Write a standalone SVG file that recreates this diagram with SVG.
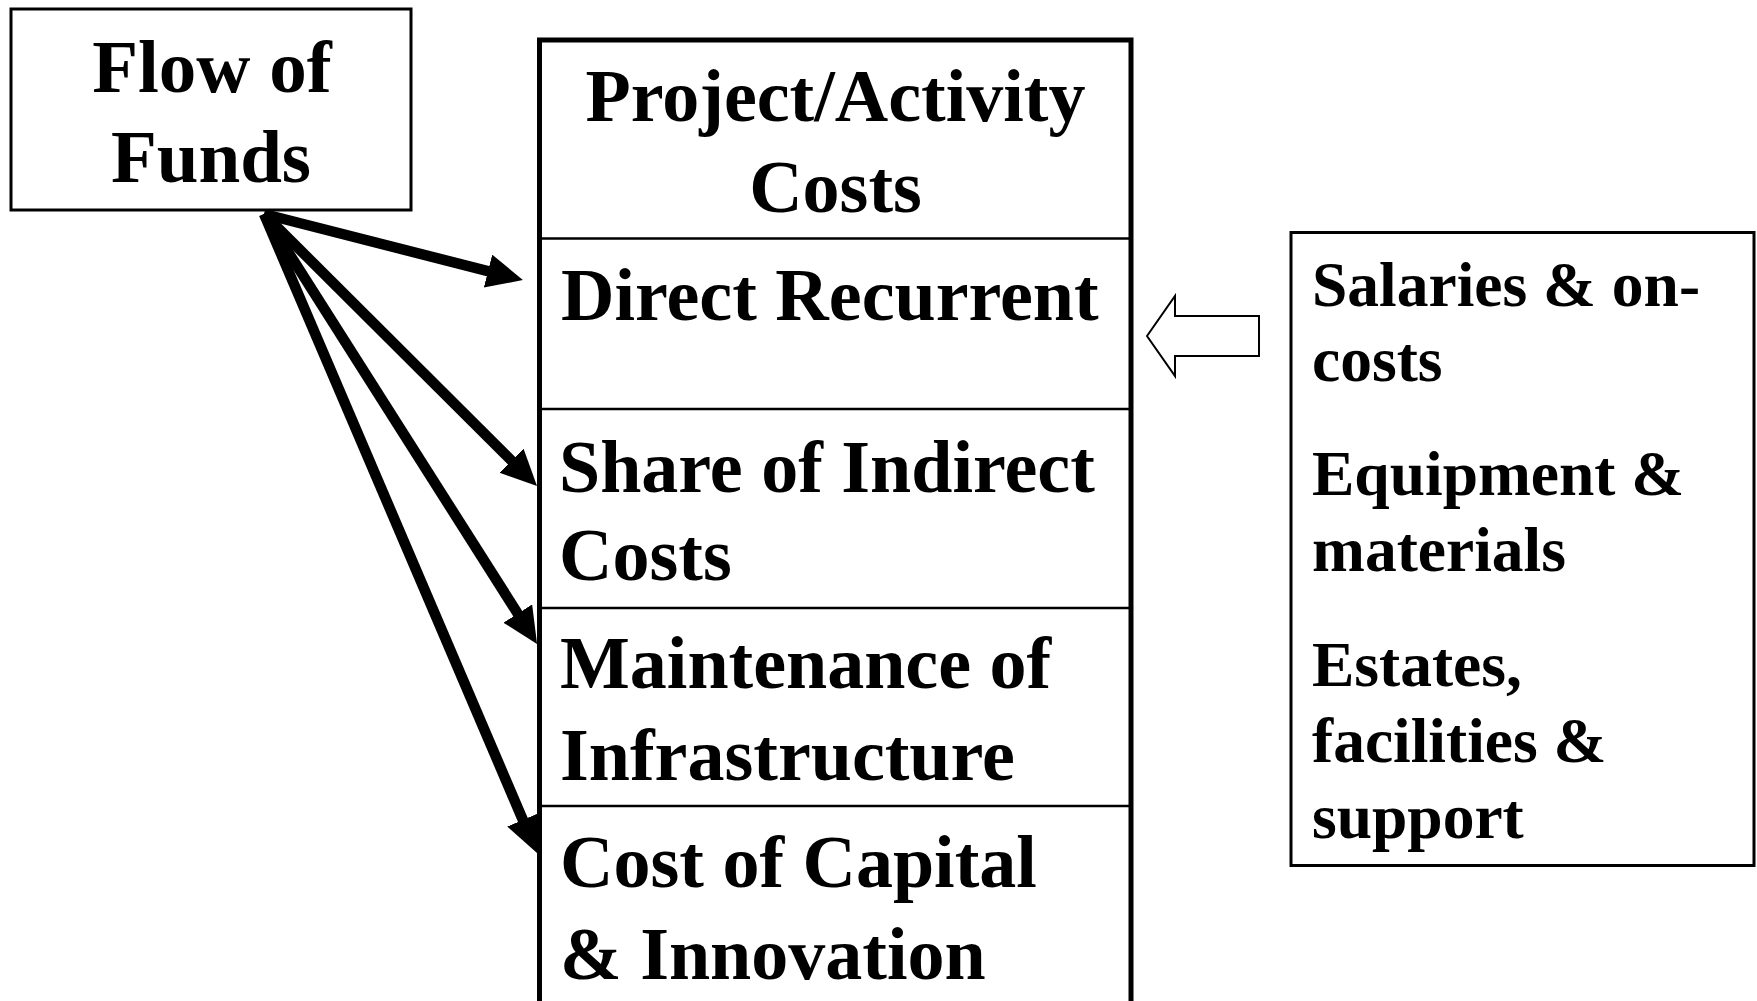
<svg xmlns="http://www.w3.org/2000/svg" width="1757" height="1001" viewBox="0 0 1757 1001">
<style>
text{font-family:"Liberation Serif","Times New Roman",serif;font-weight:bold;fill:#000}
.big{font-size:74px}
.side{font-size:63.5px}
.box{fill:#fff;stroke:#000}
.div{stroke:#000;stroke-width:2.5}
.conn{stroke:#000;stroke-width:10.5;fill:none;marker-end:url(#ah)}
</style>
<defs>
<marker id="ah" markerUnits="userSpaceOnUse" markerWidth="36" markerHeight="36" refX="10" refY="17" orient="auto" viewBox="0 0 36 36">
<path d="M0,0 L36,17 L0,34 z" fill="#000"/>
</marker>
</defs>
<rect width="1757" height="1001" fill="#fff"/>
<g id="flow-of-funds">
<rect class="box" x="11" y="9" width="400" height="201" stroke-width="3"/>
<text class="big" x="212" y="92" text-anchor="middle" style="font-size:75px">Flow of</text>
<text class="big" x="211" y="182" text-anchor="middle" style="font-size:75px">Funds</text>
</g>
<g id="project-costs">
<rect class="box" x="539.5" y="40" width="591.5" height="1000" stroke-width="5"/>
<line class="div" x1="539.5" y1="238.5" x2="1131" y2="238.5"/>
<line class="div" x1="539.5" y1="409" x2="1131" y2="409"/>
<line class="div" x1="539.5" y1="608" x2="1131" y2="608"/>
<line class="div" x1="539.5" y1="806" x2="1131" y2="806"/>
<text class="big" x="835.5" y="121" text-anchor="middle">Project/Activity</text>
<text class="big" x="835.5" y="212" text-anchor="middle">Costs</text>
</g>
<g id="direct-recurrent">
<text class="big" x="561" y="320">Direct Recurrent</text>
</g>
<g id="share-indirect">
<text class="big" x="559" y="492">Share of Indirect</text>
<text class="big" x="559" y="580">Costs</text>
</g>
<g id="maintenance">
<text class="big" x="560" y="688">Maintenance of</text>
<text class="big" x="560" y="780">Infrastructure</text>
</g>
<g id="cost-capital">
<text class="big" x="560" y="887">Cost of Capital</text>
<text class="big" x="560" y="979">&amp; Innovation</text>
</g>
<g id="cost-items">
<rect class="box" x="1291" y="232.5" width="463" height="633" stroke-width="3"/>
<text class="side" x="1312" y="306">Salaries &amp; on-</text>
<text class="side" x="1312" y="381">costs</text>
<text class="side" x="1312" y="495">Equipment &amp;</text>
<text class="side" x="1312" y="571">materials</text>
<text class="side" x="1312" y="686">Estates,</text>
<text class="side" x="1312" y="762">facilities &amp;</text>
<text class="side" x="1312" y="838">support</text>
</g>
<g id="connectors">
<line class="conn" x1="264" y1="214" x2="497.7" y2="273.6"/>
<line class="conn" x1="264" y1="214" x2="518.6" y2="467.7"/>
<line class="conn" x1="264" y1="214" x2="523.1" y2="622"/>
<line class="conn" x1="264" y1="214" x2="526.8" y2="829.1"/>
<polygon points="1147,336 1175,296 1175,316 1259,316 1259,356 1175,356 1175,376" fill="#fff" stroke="#000" stroke-width="2"/>
</g>
</svg>
